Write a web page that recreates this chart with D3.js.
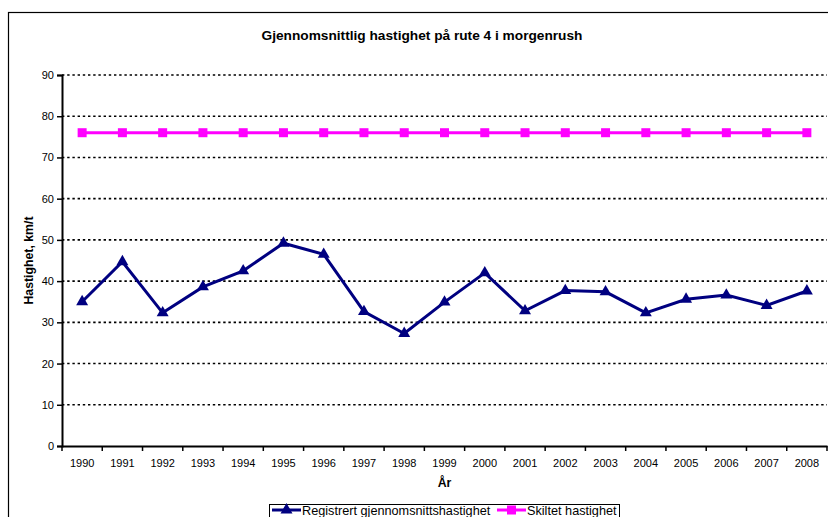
<!DOCTYPE html>
<html>
<head>
<meta charset="utf-8">
<script src="https://cdn.jsdelivr.net/npm/d3@7"></script>
<style>
  body { margin: 0; background: #fff; }
  text { font-family: "Liberation Sans", Arial, sans-serif; }
</style>
</head>
<body>
<div id="chart"></div>
<script>
// Data
const years = ["1990", "1991", "1992", "1993", "1994", "1995", "1996", "1997", "1998", "1999",
  "2000", "2001", "2002", "2003", "2004", "2005", "2006", "2007", "2008"];
const registrert = [35, 44.7, 32.3, 38.6, 42.5, 49.2, 46.5, 32.6, 27.3, 34.9,
  42.0, 32.8, 37.7, 37.4, 32.3, 35.6, 36.6, 34.1, 37.6];
const skiltet = [76, 76, 76, 76, 76, 76, 76, 76, 76, 76,
  76, 76, 76, 76, 76, 76, 76, 76, 76];
const yTicks = [0, 10, 20, 30, 40, 50, 60, 70, 80, 90];

const W = 828, H = 517;
const plot = { left: 62, right: 827, top: 75, bottom: 446 };

const svg = d3.select("#chart")
  .append("svg")
  .attr("width", W)
  .attr("height", H);

// outer chart border (runs off the picture on the right and bottom)
svg.append("rect")
  .attr("x", 8.5)
  .attr("y", 12.5)
  .attr("width", 900)
  .attr("height", 600)
  .attr("fill", "#fff")
  .attr("stroke", "#000")
  .attr("stroke-width", 1.2);

const x = d3.scaleBand()
  .domain(years)
  .range([plot.left, plot.right]);

const y = d3.scaleLinear()
  .domain([0, 90])
  .range([plot.bottom, plot.top]);

// title
svg.append("text")
  .attr("x", 422)
  .attr("y", 39.5)
  .attr("text-anchor", "middle")
  .style("font-size", "13.7px")
  .style("font-weight", "bold")
  .text("Gjennomsnittlig hastighet på rute 4 i morgenrush");

// dotted gridlines
svg.append("g")
  .selectAll("line")
  .data(yTicks.filter(d => d > 0))
  .join("line")
  .attr("x1", plot.left)
  .attr("x2", plot.right)
  .attr("y1", d => y(d))
  .attr("y2", d => y(d))
  .attr("stroke", "#000")
  .attr("stroke-width", 1.6)
  .attr("stroke-dasharray", "2.4,2.8");

// y axis
const yAxis = svg.append("g")
  .attr("transform", `translate(${plot.left},0)`)
  .call(d3.axisLeft(y).tickValues(yTicks).tickSize(5).tickPadding(3));
yAxis.select(".domain").attr("stroke-width", 2);
yAxis.selectAll(".tick line").attr("stroke-width", 1.5);
yAxis.selectAll(".tick text")
  .style("font-size", "11px")
  .attr("fill", "#000");

// x axis (labels centred in each category, ticks between categories)
const xAxis = svg.append("g")
  .attr("transform", `translate(0,${plot.bottom})`)
  .call(d3.axisBottom(x).tickSize(0).tickSizeOuter(0));
xAxis.select(".domain").attr("stroke-width", 2);
xAxis.selectAll(".tick text")
  .attr("dy", null)
  .attr("y", 20.5)
  .style("font-size", "11px")
  .attr("fill", "#000");

const boundaries = years.map(d => x(d)).concat([plot.right]);
svg.append("g")
  .selectAll("line")
  .data(boundaries)
  .join("line")
  .attr("x1", d => d)
  .attr("x2", d => d)
  .attr("y1", plot.bottom)
  .attr("y2", plot.bottom + 5)
  .attr("stroke", "#000")
  .attr("stroke-width", 1.5);

// axis titles
svg.append("text")
  .attr("x", (plot.left + plot.right) / 2)
  .attr("y", 486.5)
  .attr("text-anchor", "middle")
  .style("font-size", "12.3px")
  .style("font-weight", "bold")
  .text("År");

svg.append("text")
  .attr("transform", `translate(32.5,${(plot.top + plot.bottom) / 2}) rotate(-90)`)
  .attr("text-anchor", "middle")
  .style("font-size", "12.3px")
  .style("font-weight", "bold")
  .text("Hastighet, km/t");

const cx = d => x(d) + x.bandwidth() / 2;

const line = d3.line()
  .x(d => cx(d.year))
  .y(d => y(d.value));

const regData = years.map((year, i) => ({ year, value: registrert[i] }));
const skiltData = years.map((year, i) => ({ year, value: skiltet[i] }));

const tri = d3.symbol().type(d3.symbolTriangle).size(62);

// Skiltet hastighet (pink, squares)
svg.append("path")
  .datum(skiltData)
  .attr("fill", "none")
  .attr("stroke", "#ff00ff")
  .attr("stroke-width", 3)
  .attr("d", line);

svg.append("g")
  .selectAll("rect")
  .data(skiltData)
  .join("rect")
  .attr("x", d => cx(d.year) - 4.5)
  .attr("y", d => y(d.value) - 4.5)
  .attr("width", 9)
  .attr("height", 9)
  .attr("fill", "#ff00ff");

// Registrert gjennomsnittshastighet (navy, triangles)
svg.append("path")
  .datum(regData)
  .attr("fill", "none")
  .attr("stroke", "#000080")
  .attr("stroke-width", 3)
  .attr("stroke-linejoin", "miter")
  .attr("d", line);

svg.append("g")
  .selectAll("path")
  .data(regData)
  .join("path")
  .attr("transform", d => `translate(${cx(d.year)},${y(d.value)})`)
  .attr("d", tri)
  .attr("fill", "#000080");

// legend (cut by the bottom edge, as in the reference)
const legend = svg.append("g");
legend.append("rect")
  .attr("x", 269.5)
  .attr("y", 504.5)
  .attr("width", 350)
  .attr("height", 40)
  .attr("fill", "#fff")
  .attr("stroke", "#000")
  .attr("stroke-width", 1);

const legendItems = [
  { label: "Registrert gjennomsnittshastighet", color: "#000080", marker: "tri", x0: 272 },
  { label: "Skiltet hastighet", color: "#ff00ff", marker: "sq", x0: 497 }
];

legendItems.forEach(item => {
  const ly = 510;
  legend.append("line")
    .attr("x1", item.x0)
    .attr("x2", item.x0 + 29)
    .attr("y1", ly)
    .attr("y2", ly)
    .attr("stroke", item.color)
    .attr("stroke-width", 3);
  if (item.marker === "tri") {
    legend.append("path")
      .attr("transform", `translate(${item.x0 + 14.5},${ly})`)
      .attr("d", tri)
      .attr("fill", item.color);
  } else {
    legend.append("rect")
      .attr("x", item.x0 + 10)
      .attr("y", ly - 4.5)
      .attr("width", 9)
      .attr("height", 9)
      .attr("fill", item.color);
  }
  legend.append("text")
    .attr("x", item.x0 + 30)
    .attr("y", 515)
    .style("font-size", "12.7px")
    .text(item.label);
});
</script>
</body>
</html>
